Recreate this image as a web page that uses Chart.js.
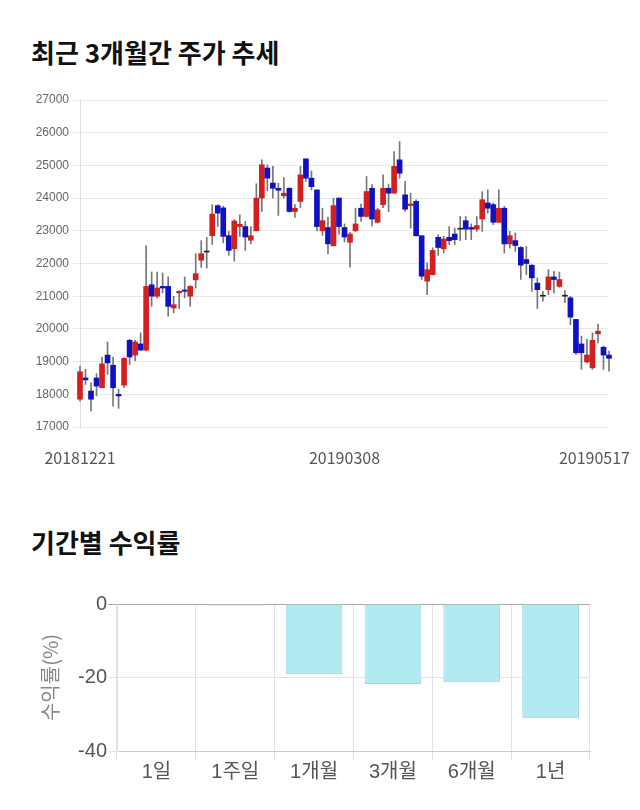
<!DOCTYPE html>
<html>
<head>
<meta charset="utf-8">
<script src="https://cdn.jsdelivr.net/npm/chart.js@4.4.1/dist/chart.umd.min.js"></script>
<style>
  body { margin: 0; background: #fff; width: 640px; height: 810px; position: relative; font-family: 'Noto Sans CJK KR', sans-serif; }
  h2 { position: absolute; left: 31px; margin: 0; font-size: 26px; font-weight: bold; color: #111; line-height: 30px; }
  #t1 { top: 37px; }
  #t2 { top: 527px; }
  .wrap { position: absolute; left: 0; width: 640px; }
  #w1 { top: 80px; height: 400px; }
  #w2 { top: 575px; height: 215px; }
</style>
</head>
<body>
<h2 id="t1">최근 3개월간 주가 추세</h2>
<div class="wrap" id="w1"><canvas id="priceChart"></canvas></div>
<h2 id="t2">기간별 수익률</h2>
<div class="wrap" id="w2"><canvas id="returnChart"></canvas></div>

<script>
// 거래일 (20181221 ~ 20190517)
const dates = [
  '20181221','20181224','20181226','20181227','20181228',
  '20190102','20190103','20190104','20190107','20190108','20190109','20190110','20190111',
  '20190114','20190115','20190116','20190117','20190118','20190121','20190122','20190123',
  '20190124','20190125','20190128','20190129','20190130','20190131',
  '20190201','20190207','20190208','20190211','20190212','20190213','20190214','20190215',
  '20190218','20190219','20190220','20190221','20190222','20190225','20190226','20190227','20190228',
  '20190304','20190305','20190306','20190307','20190308','20190311','20190312','20190313',
  '20190314','20190315','20190318','20190319','20190320','20190321','20190322','20190325',
  '20190326','20190327','20190328','20190329',
  '20190401','20190402','20190403','20190404','20190405','20190408','20190409','20190410',
  '20190411','20190412','20190415','20190416','20190417','20190418','20190419','20190422',
  '20190423','20190424','20190425','20190426','20190429','20190430',
  '20190502','20190503','20190507','20190508','20190509','20190510','20190513','20190514',
  '20190515','20190516','20190517'
];
const tickDates = ['20181221', '20190308', '20190517'];

// 시가 / 고가 / 저가 / 종가
const opens = [
  17850,18500,18100,18500,18200,19200,18890,18000,18280,19650,19200,19540,19350,21350,21000,21300,
  21300,20640,21100,21190,21000,21500,22100,22350,22850,23770,23700,22850,22450,23130,23130,22710,
  23000,24000,24920,24460,24300,24070,24300,23590,23900,25200,24610,24250,23000,23100,22540,24000,
  23100,22650,23000,23690,23440,24300,23260,23800,24300,24150,25170,24100,23770,23900,22850,21460,
  21660,22800,22450,22800,22900,23050,23310,23100,23050,23360,23850,23800,23260,23690,22600,22700,
  22490,22120,21950,21400,21000,21200,21590,21300,21000,20950,20290,19540,18990,18810,19850,19440,
  19200
];
const highs = [
  18860,18760,18350,18630,19140,19600,19140,18150,19120,19680,19650,19880,22540,21740,21740,21710,
  21590,21000,21170,21590,21320,22300,22700,22800,23800,23800,23750,22980,23340,23490,23290,23130,
  24440,25170,25020,24970,24460,24630,24320,23800,24970,25200,24830,24250,23690,23410,24000,24000,
  23210,22950,23690,23820,24660,24410,23690,24710,24430,25420,25730,24510,24150,23950,22850,22020,
  22480,22880,22830,23130,23080,23440,23440,23210,23440,24200,24250,23850,24250,23750,22980,22930,
  22520,22520,21960,21560,21150,21810,21760,21740,21170,21000,20290,19780,19680,19880,20150,19470,
  19320
];
const lows = [
  17790,18300,17490,17950,18200,18610,17640,17570,18200,18910,19030,19350,19330,20690,20950,21100,
  20390,20490,20620,20950,20690,21250,21880,21860,22580,23130,22630,22250,22070,22830,22400,22600,
  23000,23590,24220,24000,23470,24000,23570,23410,23710,24510,24250,23000,22860,22300,22540,22900,
  22660,21890,22980,23290,23420,23150,23240,23710,23590,24150,24610,23590,23080,22830,21510,21050,
  21650,22250,22320,22580,22580,22700,22730,22730,22980,22980,23540,23190,23260,22320,22470,22370,
  21510,21660,21150,20620,20850,21050,21100,21270,20800,20130,19220,18760,18960,18760,19570,18760,
  18710
];
const closes = [
  18690,18440,17850,18250,18930,18960,18200,17950,19100,19140,19600,19350,21300,21000,21250,21250,
  20690,20740,21150,21150,21300,21690,22300,22350,23510,23540,22830,22400,23300,23200,22810,22850,
  24000,25020,24610,24300,24240,24150,23590,23690,24710,24610,24350,23130,23310,22600,23770,23130,
  22810,22900,23210,23440,24200,23360,23640,24300,24150,24970,24760,23660,23820,22850,21610,21810,
  22400,22490,22750,22700,22730,23050,23050,23050,23160,23950,23690,23260,23690,22600,22850,22550,
  21950,22000,21560,21200,21000,21590,21510,21510,21000,20360,19270,19270,19200,19650,19930,19200,
  19100
];

// 기간별 수익률
const periods = ['1일', '1주일', '1개월', '3개월', '6개월', '1년'];
const returns = [0, -0.5, -19.1, -21.8, -21.3, -31.1];

const UP = '#d21f1f', DOWN = '#1111c4', FLAT = '#222';

function candleColor(i) {
  if (closes[i] > opens[i]) return UP;
  if (closes[i] < opens[i]) return DOWN;
  return FLAT;
}

// x축 날짜 라벨 (첫/중간/마지막)
const dateLabels = {
  id: 'dateLabels',
  afterDraw(chart) {
    const { ctx, scales: { x }, chartArea } = chart;
    ctx.save();
    ctx.font = '16px "Noto Sans CJK KR", sans-serif';
    ctx.fillStyle = '#555';
    ctx.textAlign = 'center';
    ctx.textBaseline = 'middle';
    tickDates.forEach(d => {
      const i = dates.indexOf(d);
      const w = ctx.measureText(d).width;
      let px = x.getPixelForValue(i);
      px = Math.min(Math.max(px, w / 2 + 2), chart.width - 10 - w / 2);
      ctx.fillText(d, px, chartArea.bottom + 31);
    });
    ctx.restore();
  }
};

new Chart(document.getElementById('priceChart'), {
  type: 'bar',
  data: {
    labels: dates,
    datasets: [{
      label: 'body',
      data: opens.map((o, i) => [o, closes[i]]),
      backgroundColor: dates.map((d, i) => candleColor(i)),
      borderColor: dates.map((d, i) => candleColor(i)),
      borderWidth: 0,
      barThickness: 5,
      minBarLength: 1,
      order: 0,
      clip: false
    }, {
      label: 'wick',
      data: lows.map((l, i) => [l, highs[i]]),
      backgroundColor: '#777',
      barThickness: 1,
      order: 1,
      clip: false
    }]
  },
  options: {
    responsive: true,
    maintainAspectRatio: false,
    animation: false,
    layout: { padding: { left: 0, top: 20, right: 31, bottom: 53 } },
    plugins: { legend: { display: false }, tooltip: { enabled: false } },
    scales: {
      x: {
        display: false,
        offset: false,
        stacked: false
      },
      y: {
        min: 17000,
        max: 27000,
        afterFit: s => { s.width = 80; },
        border: { color: '#ddd' },
        grid: { color: '#e8e8e8', tickLength: 7 },
        ticks: {
          stepSize: 1000,
          padding: 4,
          color: '#666',
          font: { family: 'Liberation Sans', size: 12 },
          callback: v => String(v)
        }
      }
    },
    datasets: { bar: { grouped: false } }
  },
  plugins: [dateLabels]
});

new Chart(document.getElementById('returnChart'), {
  type: 'bar',
  data: {
    labels: periods,
    datasets: [{
      data: returns,
      backgroundColor: '#b2eaf2',
      borderColor: '#9cd6e0',
      borderWidth: 1
    }]
  },
  options: {
    responsive: true,
    maintainAspectRatio: false,
    animation: false,
    layout: { padding: { left: 0, top: 29, right: 50, bottom: 0 } },
    plugins: { legend: { display: false }, tooltip: { enabled: false } },
    scales: {
      x: {
        afterFit: s => { s.height = 39; },
        border: { color: '#ccc' },
        grid: { color: '#e3e3e3', tickLength: 9 },
        ticks: {
          padding: 0,
          color: '#555',
          font: { family: "'Liberation Sans', 'Noto Sans CJK KR'", size: 20 }
        }
      },
      y: {
        min: -40,
        max: 0,
        afterFit: s => { s.width = 117; },
        border: { color: '#e3e3e3' },
        grid: {
          tickLength: 9,
          color: ctx => ctx.tick && ctx.tick.value === 0 ? '#aaa' : '#e3e3e3'
        },
        ticks: {
          stepSize: 20,
          padding: 1,
          color: '#555',
          font: { family: 'Liberation Sans', size: 20 }
        },
        title: {
          display: true,
          text: '수익률(%)',
          color: '#888',
          padding: { top: 38, bottom: 0 },
          font: { family: "'Noto Sans CJK KR'", size: 20 }
        }
      }
    }
  }
});
</script>
</body>
</html>
